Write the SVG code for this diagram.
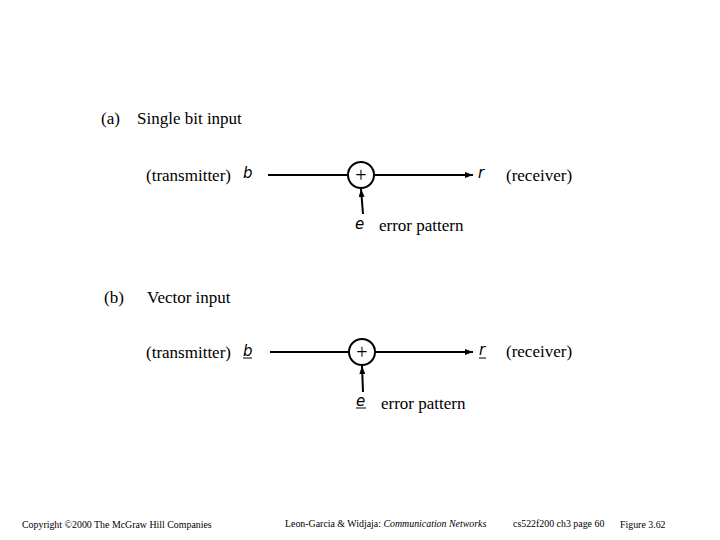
<svg xmlns="http://www.w3.org/2000/svg" width="720" height="540" viewBox="0 0 720 540">
<style>
.t{font-family:"Liberation Serif",serif;font-size:17px;fill:#000}
.i{font-family:"DejaVu Sans",sans-serif;font-style:italic;font-size:15px;fill:#000}
.s{font-family:"Liberation Serif",serif;font-size:9.9px;fill:#000}
.l{stroke:#000;stroke-width:2;fill:none}
</style>
<defs><marker id="a" markerWidth="8" markerHeight="6" refX="8" refY="3" orient="auto" markerUnits="userSpaceOnUse"><path d="M0,0L8,3L0,6z" fill="#000"/></marker></defs>
<rect width="720" height="540" fill="#fff"/>
<text class="t" x="101" y="124">(a)</text><text class="t" x="137" y="124">Single bit input</text>
<text class="t" x="104" y="303">(b)</text><text class="t" x="147" y="303">Vector input</text>
<g id="connectors">
<line class="l" x1="268" y1="175" x2="348" y2="175"/>
<line class="l" x1="374" y1="175" x2="473" y2="175" marker-end="url(#a)"/>
<line class="l" x1="363" y1="214" x2="361" y2="189" marker-end="url(#a)"/>
<line class="l" x1="270" y1="352" x2="349" y2="352"/>
<line class="l" x1="375" y1="352" x2="473" y2="352" marker-end="url(#a)"/>
<line class="l" x1="363" y1="392" x2="362" y2="366" marker-end="url(#a)"/>
</g>
<g id="a-tx"><text class="t" x="146" y="181">(transmitter)</text><text class="i" x="243" y="178">b</text></g>
<g id="a-sum"><circle class="l" cx="361" cy="175" r="13"/><text x="361" y="182" text-anchor="middle" style="font-family:'Liberation Serif',serif;font-size:20px">+</text></g>
<g id="a-rx"><text class="i" x="478" y="178">r</text><text class="t" x="506" y="181">(receiver)</text></g>
<g id="a-e"><text class="i" x="355" y="229">e</text><text class="t" x="379" y="231">error pattern</text></g>
<g id="b-tx"><text class="t" x="146" y="358">(transmitter)</text><text class="i" x="243" y="356">b</text><line x1="243" y1="358" x2="252" y2="358" stroke="#000"/></g>
<g id="b-sum"><circle class="l" cx="362" cy="352" r="13"/><text x="362" y="359" text-anchor="middle" style="font-family:'Liberation Serif',serif;font-size:20px">+</text></g>
<g id="b-rx"><text class="i" x="479" y="355">r</text><line x1="479" y1="358" x2="486" y2="358" stroke="#000"/><text class="t" x="506" y="357">(receiver)</text></g>
<g id="b-e"><text class="i" x="356" y="406">e</text><line x1="356" y1="408" x2="366" y2="408" stroke="#000"/><text class="t" x="381" y="409">error pattern</text></g>
<text class="s" x="22" y="528">Copyright ©2000 The McGraw Hill Companies</text>
<text class="s" x="285" y="527">Leon-Garcia &amp; Widjaja:  <tspan font-style="italic">Communication Networks</tspan></text>
<text class="s" x="513" y="527">cs522f200 ch3 page 60</text>
<text class="s" x="620" y="528">Figure 3.62</text>
</svg>
